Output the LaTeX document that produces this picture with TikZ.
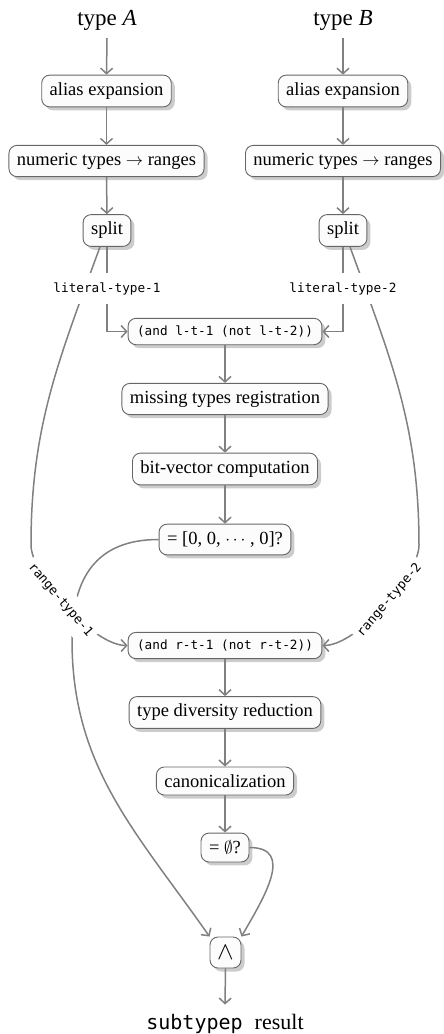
\documentclass[tikz,border=0pt]{standalone}
\usepackage{fontspec}
\setmainfont{Liberation Serif}
\setmonofont{DejaVu Sans Mono}
\usetikzlibrary{arrows.meta,shadows}
\begin{document}
\begin{tikzpicture}[x=1pt,y=1pt,
  box/.style={draw=black!60, line width=0.9pt, fill=black!1, rounded corners=8pt,
    inner xsep=8pt, inner ysep=7.5pt, font=\fontsize{18.5}{22}\selectfont,
    drop shadow={shadow xshift=3.5pt,shadow yshift=-3.5pt,fill=black!20,opacity=1}},
  mbox/.style={box, inner xsep=9pt, font=\ttfamily\fontsize{12.7}{15}\selectfont},
  arr/.style={draw=black!50, line width=1.5pt, -{Straight Barb[length=5.5pt,width=12pt]}},
  lab/.style={fill=white, inner xsep=4pt, inner ysep=9pt, font=\ttfamily\fontsize{12.7}{15}\selectfont},
  title/.style={font=\fontsize{23}{26}\selectfont, inner sep=8pt}
]
\useasboundingbox (0,0) rectangle (444,-1034);

% titles
\node[title, anchor=base] (tA) at (107,-25) {type \textit{A}};
\node[title, anchor=base] (tB) at (343,-25) {type \textit{B}};

% left column
\node[box] (aeA) at (106.5,-91) {alias expansion};
\node[box] (nA) at (106.5,-161) {numeric types $\rightarrow$ ranges};
\node[box] (spA) at (107,-230.5) {split};
% right column
\node[box] (aeB) at (343,-91) {alias expansion};
\node[box] (nB) at (343,-161) {numeric types $\rightarrow$ ranges};
\node[box] (spB) at (343,-230.5) {split};

% middle column
\node[mbox] (andL) at (225,-331.5) {(and l-t-1 (not l-t-2))};
\node[box] (miss) at (225,-399) {missing types registration};
\node[box] (bv) at (225,-469) {bit-vector computation};
\node[box] (zero) at (225,-539.5) {= [0, 0, $\cdots$ , 0]?};
\node[mbox] (andR) at (225,-645.5) {(and r-t-1 (not r-t-2))};
\node[box] (tdr) at (225,-712.5) {type diversity reduction};
\node[box] (can) at (225,-781) {canonicalization};
\node[box] (empty) at (225,-847.5) {= $\emptyset$?};
\node[box, minimum size=31pt, inner sep=0pt, font=\fontsize{25}{28}\selectfont] (wedge) at (225.5,-952.5) {$\wedge$};
\node[anchor=base, inner ysep=9pt] (res) at (225,-1029)
  {\fontsize{20}{24}\selectfont\ttfamily subtypep \fontsize{22}{24}\selectfont\rmfamily result};

% helper coordinates
\coordinate (rA) at (31,-545);
\coordinate (rB) at (419,-545);
\coordinate (zj) at (72,-640);

% straight arrows
\draw[arr] (tA.south) -- (aeA.north);
\draw[arr] (aeA) -- (nA);
\draw[arr] (nA) -- (spA);
\draw[arr] (tB.south) -- (aeB.north);
\draw[arr] (aeB) -- (nB);
\draw[arr] (nB) -- (spB);
\draw[arr] (andL) -- (miss);
\draw[arr] (miss) -- (bv);
\draw[arr] (bv) -- (zero);
\draw[arr] (andR) -- (tdr);
\draw[arr] (tdr) -- (can);
\draw[arr] (can) -- (empty);
\draw[arr] (wedge.south) -- (res.north);

% curves to the wedge
\draw[arr] (zero.west) to[out=180,in=90,looseness=1.2] (zj) to[out=-90,in=125] (wedge.north west);
\draw[arr] (empty.east) to[out=0,in=60,looseness=1.3] (wedge.north east);

% range paths
\draw[arr] ([xshift=-7pt]spA.south) to[out=250,in=90] (rA)
  to[out=-90,in=180,out distance=30pt,in distance=35pt]
  node[lab, sloped, pos=0.45] (rl1) {range-type-1} (andR.west);
\draw[arr] ([xshift=7pt]spB.south) to[out=-70,in=90] (rB)
  to[out=-90,in=0,out distance=30pt,in distance=35pt]
  node[lab, sloped, pos=0.45] (rl2) {range-type-2} (andR.east);

% literal paths
\draw[arr] (spA.south) |- (andL.west);
\node[lab] (ll1) at (107,-288.5) {literal-type-1};
\draw[arr] (spB.south) |- (andL.east);
\node[lab] (ll2) at (343,-288.5) {literal-type-2};
\end{tikzpicture}
\end{document}
